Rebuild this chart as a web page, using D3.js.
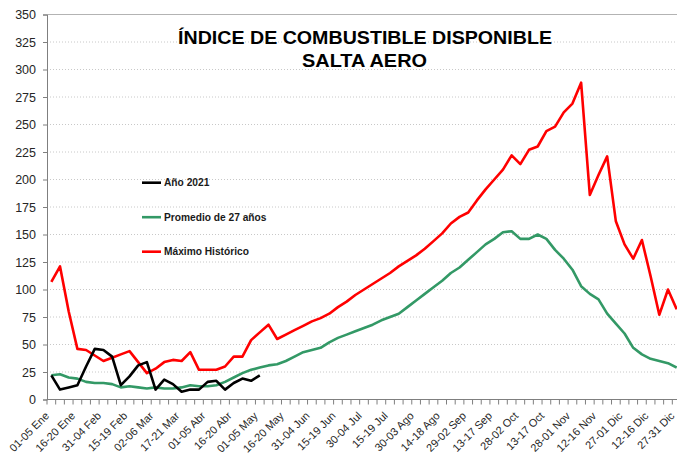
<!DOCTYPE html>
<html>
<head>
<meta charset="utf-8">
<script src="https://cdn.jsdelivr.net/npm/d3@7/dist/d3.min.js"></script>
<style>
  body { margin: 0; background: #fff; }
  svg { display: block; font-family: "Liberation Sans", Arial, sans-serif; }
</style>
</head>
<body>
<script>
// 73 pentadas del año
var categories = [
  "01-05 Ene", "06-10 Ene", "11-15 Ene", "16-20 Ene", "21-25 Ene", "26-30 Ene",
  "31-04 Feb", "05-09 Feb", "10-14 Feb", "15-19 Feb", "20-24 Feb", "25-01 Mar",
  "02-06 Mar", "07-11 Mar", "12-16 Mar", "17-21 Mar", "22-26 Mar", "27-31 Mar",
  "01-05 Abr", "06-10 Abr", "11-15 Abr", "16-20 Abr", "21-25 Abr", "26-30 Abr",
  "01-05 May", "06-10 May", "11-15 May", "16-20 May", "21-25 May", "26-30 May",
  "31-04 Jun", "05-09 Jun", "10-14 Jun", "15-19 Jun", "20-24 Jun", "25-29 Jun",
  "30-04 Jul", "05-09 Jul", "10-14 Jul", "15-19 Jul", "20-24 Jul", "25-29 Jul",
  "30-03 Ago", "04-08 Ago", "09-13 Ago", "14-18 Ago", "19-23 Ago", "24-28 Ago",
  "29-02 Sep", "03-07 Sep", "08-12 Sep", "13-17 Sep", "18-22 Sep", "23-27 Sep",
  "28-02 Oct", "03-07 Oct", "08-12 Oct", "13-17 Oct", "18-22 Oct", "23-27 Oct",
  "28-01 Nov", "02-06 Nov", "07-11 Nov", "12-16 Nov", "17-21 Nov", "22-26 Nov",
  "27-01 Dic", "02-06 Dic", "07-11 Dic", "12-16 Dic", "17-21 Dic", "22-26 Dic",
  "27-31 Dic"
];

var tickLabels = [
  "01-05 Ene", "16-20 Ene", "31-04 Feb", "15-19 Feb", "02-06 Mar", "17-21 Mar",
  "01-05 Abr", "16-20 Abr", "01-05 May", "16-20 May", "31-04 Jun", "15-19 Jun",
  "30-04 Jul", "15-19 Jul", "30-03 Ago", "14-18 Ago", "29-02 Sep", "13-17 Sep",
  "28-02 Oct", "13-17 Oct", "28-01 Nov", "12-16 Nov", "27-01 Dic", "12-16 Dic",
  "27-31 Dic"
];

var yTicks = [0, 25, 50, 75, 100, 125, 150, 175, 200, 225, 250, 275, 300, 325, 350];

var anio2021 = [
  22, 9, 11, 13, 30, 46, 45, 39, 13, 21, 31, 34, 9, 18, 14, 7, 9, 9, 16, 17,
  9, 15, 19, 17, 22
];

var promedio = [
  22, 23, 20, 19, 16, 15, 15, 14, 11, 12, 11, 10, 11, 10, 10, 11, 13, 12, 12, 13,
  16, 20, 24, 27, 29, 31, 32, 35, 39, 43, 45, 47, 52, 56, 59, 62, 65, 68, 72, 75,
  78, 84, 90, 96, 102, 108, 115, 120, 127, 134, 141, 146, 152, 153, 146, 146, 150, 146, 136, 128,
  118, 103, 96, 91, 78, 69, 60, 47, 41, 37, 35, 33, 29
];

var maximo = [
  107, 121, 80, 46, 45, 40, 35, 38, 41, 44, 34, 24, 28, 34, 36, 35, 43, 27, 27, 27,
  30, 39, 39, 54, 61, 68, 55, 59, 63, 67, 71, 74, 78, 84, 89, 95, 100, 105, 110, 115,
  121, 126, 131, 137, 144, 151, 160, 166, 170, 181, 191, 200, 209, 222, 214, 227, 230, 244, 248, 261,
  269, 288, 186, 204, 221, 162, 141, 128, 145, 112, 77, 100, 82
];

var series = [
  { name: "Año 2021", values: anio2021, color: "#000000" },
  { name: "Promedio de 27 años", values: promedio, color: "#339966" },
  { name: "Máximo Histórico", values: maximo, color: "#ff0000" }
];

var outerWidth = 677;
var outerHeight = 457;

var svg = d3
  .select("body")
  .append("svg")
  .attr("width", outerWidth)
  .attr("height", outerHeight);

var xScale = d3.scaleBand().domain(categories).range([47, 681]).padding(0);
var yScale = d3.scaleLinear().domain([0, 350]).range([399.5, 14.5]);

// gridlines (dotted), top border solid
svg.append("g")
  .selectAll("line")
  .data(yTicks.filter((d) => d > 0))
  .enter()
  .append("line")
  .attr("x1", 47)
  .attr("x2", 681)
  .attr("y1", (d) => yScale(d))
  .attr("y2", (d) => yScale(d))
  .attr("stroke", (d) => (d === 350 ? "#b3b3b3" : "#c8c8c8"))
  .attr("stroke-width", 1)
  .attr("stroke-dasharray", (d) => (d === 350 ? null : "1,2"));

// Y axis
var yAxis = d3.axisLeft(yScale).tickValues(yTicks).tickSize(4).tickPadding(7);
var gy = svg.append("g").attr("transform", "translate(47,0)").call(yAxis);
gy.select(".domain").attr("stroke", "#7f7f7f");
gy.selectAll(".tick line").attr("stroke", "#7f7f7f");
gy.selectAll(".tick text")
  .attr("font-size", 12.5)
  .attr("fill", "#262626")
  .attr("font-family", "Liberation Sans, Arial, sans-serif");

// X axis line + boundary ticks
var xBoundaries = categories.map((c) => xScale(c)).concat([xScale.range()[1]]);
svg.append("line")
  .attr("x1", 47)
  .attr("x2", 681)
  .attr("y1", yScale(0))
  .attr("y2", yScale(0))
  .attr("stroke", "#7f7f7f");
svg.append("g")
  .selectAll("line")
  .data(xBoundaries)
  .enter()
  .append("line")
  .attr("x1", (d) => d)
  .attr("x2", (d) => d)
  .attr("y1", yScale(0))
  .attr("y2", yScale(0) + 5)
  .attr("stroke", "#7f7f7f");

// X labels, rotated
var xAxis = d3.axisBottom(xScale).tickValues(tickLabels).tickSize(0);
var gx = svg.append("g").attr("transform", "translate(0," + yScale(0) + ")").call(xAxis);
gx.select(".domain").remove();
gx.selectAll(".tick text")
  .attr("x", 0)
  .attr("y", 0)
  .attr("dy", 0)
  .attr("text-anchor", "end")
  .attr("transform", "translate(-1.5,17) rotate(-45)")
  .attr("font-size", 11)
  .attr("fill", "#262626")
  .attr("font-family", "Liberation Sans, Arial, sans-serif");

// lines
var line = d3
  .line()
  .x((d, i) => xScale(categories[i]) + xScale.bandwidth() / 2)
  .y((d) => yScale(d));

svg.append("g")
  .selectAll(".line-path")
  .data(series.slice().reverse())
  .enter()
  .append("path")
  .attr("class", "line-path")
  .attr("d", (d) => line(d.values))
  .attr("fill", "none")
  .attr("stroke", (d) => d.color)
  .attr("stroke-width", 2.6)
  .attr("stroke-linejoin", "round");

// legend
var legend = svg
  .append("g")
  .selectAll("g")
  .data(series)
  .enter()
  .append("g")
  .attr("transform", (d, i) => "translate(142," + (182.7 + i * 34.5) + ")");

legend.append("line")
  .attr("x1", 0)
  .attr("x2", 19)
  .attr("stroke", (d) => d.color)
  .attr("stroke-width", 2.6);

legend.append("text")
  .attr("x", 22)
  .attr("y", 3.6)
  .attr("font-size", 10.2)
  .attr("font-weight", "bold")
  .attr("fill", "#1a1a1a")
  .text((d) => d.name);

// title (stretched to the width seen in the picture)
var title = svg.append("g")
  .attr("font-size", 17.5)
  .attr("font-weight", "bold")
  .attr("fill", "#000");
title.append("text")
  .attr("x", 178)
  .attr("y", 44)
  .attr("textLength", 374)
  .attr("lengthAdjust", "spacingAndGlyphs")
  .text("ÍNDICE DE COMBUSTIBLE DISPONIBLE");
title.append("text")
  .attr("x", 302)
  .attr("y", 66.7)
  .attr("textLength", 125)
  .attr("lengthAdjust", "spacingAndGlyphs")
  .text("SALTA AERO");
</script>
</body>
</html>
